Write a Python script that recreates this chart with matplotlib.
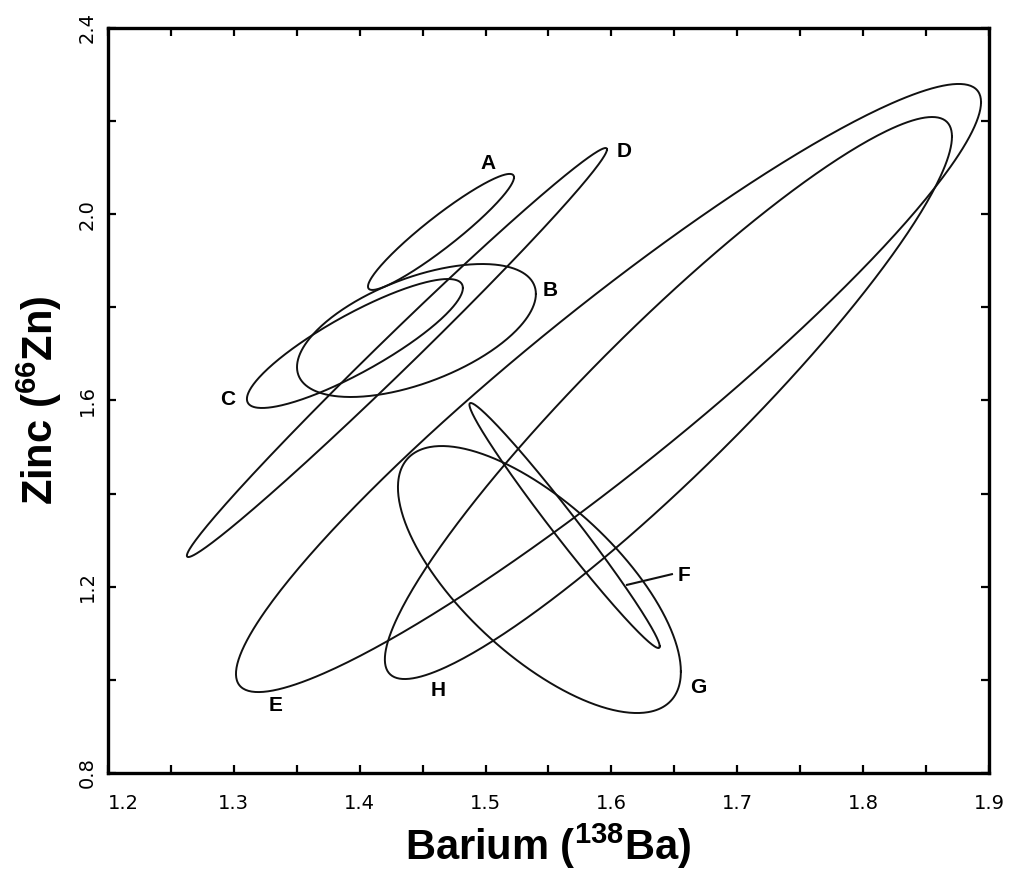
import matplotlib

matplotlib.use("Agg")
import matplotlib.pyplot as plt
import numpy as np
from matplotlib.ticker import MultipleLocator

plt.rcParams["font.family"] = ["Liberation Sans", "DejaVu Sans"]
plt.rcParams["mathtext.fontset"] = "custom"
plt.rcParams["mathtext.bf"] = "Liberation Sans:bold"
plt.rcParams["mathtext.rm"] = "Liberation Sans"

# confidence ellipses for each group: centre, half-extent along each axis, correlation
groups = ["A", "B", "C", "D", "E", "F", "G", "H"]
ba_center = [1.4646, 1.4451, 1.3962, 1.4296, 1.5977, 1.5628, 1.5428, 1.6453]
zn_center = [1.9620, 1.7503, 1.7224, 1.7030, 1.6268, 1.3315, 1.2155, 1.6053]
ba_radius = [0.0580, 0.0949, 0.0858, 0.1669, 0.2960, 0.0756, 0.1124, 0.2253]
zn_radius = [0.1246, 0.1428, 0.1385, 0.4392, 0.6530, 0.2631, 0.2867, 0.6035]
corr = [0.94, 0.55, 0.86, 0.993, 0.94, -0.986, -0.69, 0.93]

# where each group letter sits
label_x = [1.502, 1.551, 1.295, 1.610, 1.333, 1.6577, 1.669, 1.462]
label_y = [2.108, 1.837, 1.603, 2.134, 0.944, 1.2252, 0.983, 0.978]

# leader line from the F letter to its ellipse
f_leader_x = [1.6124, 1.6481]
f_leader_y = [1.204, 1.227]


def ellipse_points(cx, cy, rx, ry, r, n=400):
    t = np.linspace(0, 2 * np.pi, n)
    x = cx + rx * np.cos(t)
    y = cy + ry * (r * np.cos(t) + np.sqrt(1 - r**2) * np.sin(t))
    return x, y


fig = plt.figure(figsize=(10.11, 8.8), dpi=100)
ax = fig.add_axes([0.1068, 0.1216, 0.8714, 0.8466])

for i, name in enumerate(groups):
    x, y = ellipse_points(ba_center[i], zn_center[i], ba_radius[i], zn_radius[i], corr[i])
    ax.plot(x, y, color="#111111", lw=1.4)
    ax.text(label_x[i], label_y[i], name, fontsize=15, fontweight="bold",
            ha="center", va="center")

ax.plot(f_leader_x, f_leader_y, color="#111111", lw=1.5)

ax.set_xlim(1.2, 1.9)
ax.set_ylim(0.8, 2.4)
ax.xaxis.set_major_locator(MultipleLocator(0.1))
ax.xaxis.set_minor_locator(MultipleLocator(0.05))
ax.yaxis.set_major_locator(MultipleLocator(0.4))
ax.yaxis.set_minor_locator(MultipleLocator(0.2))
ax.xaxis.set_major_formatter(lambda v, p: f"{v:.1f}")
ax.yaxis.set_major_formatter(lambda v, p: f"{v:.1f}")

ax.tick_params(which="both", direction="in", top=True, right=True,
               length=6, width=1.6, color="black")
ax.tick_params(axis="x", which="major", labelsize=14, pad=15)
ax.tick_params(axis="y", which="major", labelsize=14, pad=8)

for s in ax.spines.values():
    s.set_linewidth(2.4)

ax.set_xlabel(r"Barium ($^{\mathbf{138}}$Ba)", fontsize=30, fontweight="bold",
              labelpad=6)
ax.set_ylabel(r"Zinc ($^{\mathbf{66}}$Zn)", fontsize=30, fontweight="bold",
              labelpad=10)

fig.canvas.draw()
for lab in ax.get_xticklabels() + ax.get_yticklabels():
    lab.set_family("DejaVu Sans")
for lab in ax.get_yticklabels():
    lab.set_rotation(90)
    lab.set_va("center")
# the 1.2 label sits right of its tick so it clears the corner
for tick in ax.xaxis.get_major_ticks():
    if abs(tick.get_loc() - 1.2) < 1e-6:
        tick.label1.set_horizontalalignment("left")

fig.savefig("out.png", dpi=100)
